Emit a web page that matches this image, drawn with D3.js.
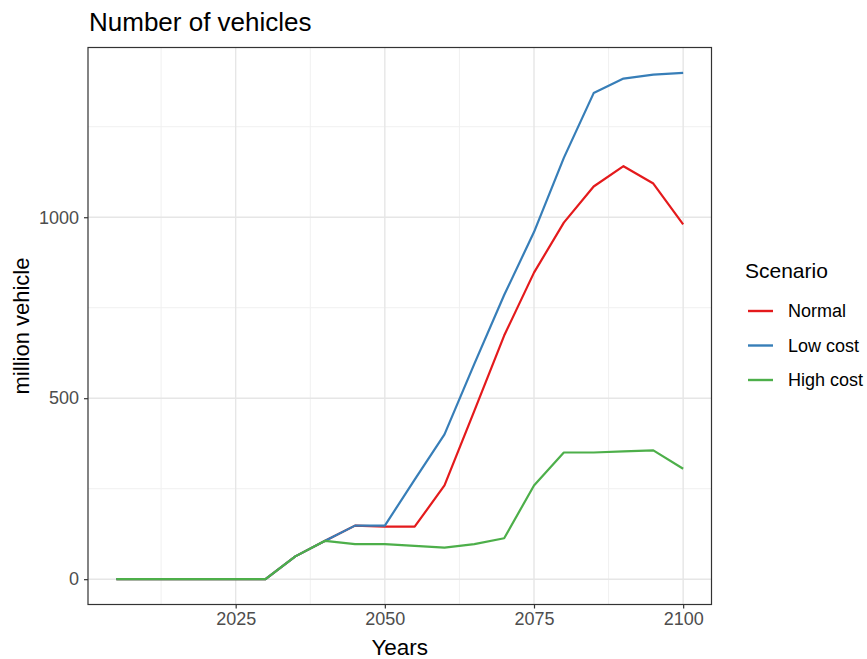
<!DOCTYPE html>
<html>
<head>
<meta charset="utf-8">
<script src="https://cdn.jsdelivr.net/npm/d3@7"></script>
<style>
  html, body { margin: 0; padding: 0; background: #fff; }
  svg { display: block; font-family: "Liberation Sans", Arial, sans-serif; }
</style>
</head>
<body>
<svg id="chart" width="867" height="659"></svg>
<script>
// Vehicle fleet projections by scenario (million vehicles), 5-year steps
const years = [2005, 2010, 2015, 2020, 2025, 2030, 2035, 2040, 2045, 2050,
               2055, 2060, 2065, 2070, 2075, 2080, 2085, 2090, 2095, 2100];
const normal   = [0, 0, 0, 0, 0, 0, 63, 106, 148, 145,
                  145, 259, 465, 673, 847, 985, 1085, 1141, 1093, 980];
const lowCost  = [0, 0, 0, 0, 0, 0, 63, 106, 148, 148,
                  275, 400, 595, 785, 959, 1164, 1343, 1383, 1394, 1399];
const highCost = [0, 0, 0, 0, 0, 0, 63, 106, 97, 97,
                  92, 87, 97, 113, 259, 350, 350, 353, 356, 305];
const scenarioNames  = ["Normal", "Low cost", "High cost"];
const scenarioColors = ["#E41A1C", "#377EB8", "#4DAF4A"];
const xTicks = [2025, 2050, 2075, 2100];
const yTicks = [0, 500, 1000];
const xMinor = [2012.5, 2037.5, 2062.5, 2087.5];
const yMinor = [250, 750, 1250];

const series = [normal, lowCost, highCost].map((vals, i) => ({
  name: scenarioNames[i],
  color: scenarioColors[i],
  points: years.map((y, j) => ({ year: y, value: vals[j] }))
}));

const svg = d3.select("#chart");
const panel = { left: 88, right: 711.5, top: 47.5, bottom: 604.5 };

// 5% expansion on both axes
const xExt = d3.extent(years);
const xPad = (xExt[1] - xExt[0]) * 0.05;
const yMax = d3.max([normal, lowCost, highCost].flat());
const yPad = yMax * 0.05;

const x = d3.scaleLinear().domain([xExt[0] - xPad, xExt[1] + xPad])
  .range([panel.left, panel.right]);
const y = d3.scaleLinear().domain([0 - yPad, yMax + yPad])
  .range([panel.bottom, panel.top]);

const g = svg.append("g");

// minor grid
g.append("g").selectAll("line").data(xMinor).join("line")
  .attr("x1", d => x(d)).attr("x2", d => x(d))
  .attr("y1", panel.top).attr("y2", panel.bottom)
  .attr("stroke", "#f0f0f0").attr("stroke-width", 1);
g.append("g").selectAll("line").data(yMinor).join("line")
  .attr("y1", d => y(d)).attr("y2", d => y(d))
  .attr("x1", panel.left).attr("x2", panel.right)
  .attr("stroke", "#f0f0f0").attr("stroke-width", 1);
// major grid
g.append("g").selectAll("line").data(xTicks).join("line")
  .attr("x1", d => x(d)).attr("x2", d => x(d))
  .attr("y1", panel.top).attr("y2", panel.bottom)
  .attr("stroke", "#e6e6e6").attr("stroke-width", 1.4);
g.append("g").selectAll("line").data(yTicks).join("line")
  .attr("y1", d => y(d)).attr("y2", d => y(d))
  .attr("x1", panel.left).attr("x2", panel.right)
  .attr("stroke", "#e6e6e6").attr("stroke-width", 1.4);

// data lines (later series drawn on top)
const line = d3.line().x(d => x(d.year)).y(d => y(d.value));
g.append("g").selectAll("path").data(series).join("path")
  .attr("d", d => line(d.points))
  .attr("fill", "none")
  .attr("stroke", d => d.color)
  .attr("stroke-width", 2.2)
  .attr("stroke-linejoin", "round");

// panel border
g.append("rect")
  .attr("x", panel.left).attr("y", panel.top)
  .attr("width", panel.right - panel.left).attr("height", panel.bottom - panel.top)
  .attr("fill", "none").attr("stroke", "#333").attr("stroke-width", 1.2);

// axes
const xAxis = d3.axisBottom(x).tickValues(xTicks).tickFormat(d3.format("d"))
  .tickSize(4).tickPadding(4);
const yAxis = d3.axisLeft(y).tickValues(yTicks).tickFormat(d3.format("d"))
  .tickSize(4).tickPadding(5);

const gx = svg.append("g").attr("transform", `translate(0,${panel.bottom})`).call(xAxis);
const gy = svg.append("g").attr("transform", `translate(${panel.left},0)`).call(yAxis);
[gx, gy].forEach(a => {
  a.select(".domain").remove();
  a.selectAll(".tick line").attr("stroke", "#333").attr("stroke-width", 1.2);
  a.selectAll(".tick text").attr("fill", "#4d4d4d")
    .attr("font-size", 18).attr("font-family", "Liberation Sans, Arial, sans-serif");
});

// titles
svg.append("text").attr("x", 89).attr("y", 31)
  .attr("font-size", 26).attr("fill", "#000").text("Number of vehicles");
svg.append("text").attr("x", (panel.left + panel.right) / 2).attr("y", 655)
  .attr("text-anchor", "middle").attr("font-size", 22.5).attr("fill", "#000").text("Years");
svg.append("text")
  .attr("transform", `translate(29,${(panel.top + panel.bottom) / 2}) rotate(-90)`)
  .attr("text-anchor", "middle").attr("font-size", 22).attr("fill", "#000")
  .text("million vehicle");

// legend
const legend = svg.append("g").attr("transform", "translate(745,0)");
legend.append("text").attr("x", 0).attr("y", 278)
  .attr("font-size", 21).attr("fill", "#000").text("Scenario");
const items = legend.selectAll("g.item").data(series).join("g")
  .attr("class", "item")
  .attr("transform", (d, i) => `translate(0,${311 + i * 34.5})`);
items.append("line").attr("x1", 3).attr("x2", 28).attr("y1", 0).attr("y2", 0)
  .attr("stroke", d => d.color).attr("stroke-width", 2.4);
items.append("text").attr("x", 43).attr("y", 6)
  .attr("font-size", 18).attr("fill", "#000").text(d => d.name);
</script>
</body>
</html>
